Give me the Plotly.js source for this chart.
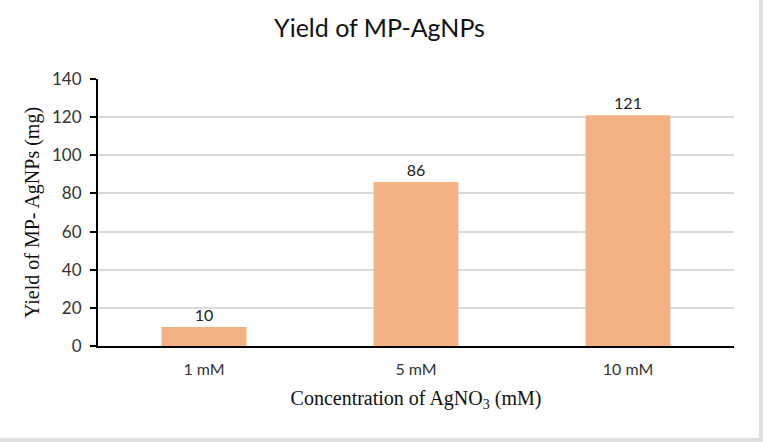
<!DOCTYPE html>
<html>
<head>
<script src="https://cdn.plot.ly/plotly-3.0.1.min.js"></script>
<style>
body { margin: 0; background: #fff; }
#chart { width: 759px; height: 438px; border-right: 4px solid #e0e0e0; border-bottom: 4px solid #e0e0e0; }
</style>
</head>
<body>
<div id="chart"></div>
<script>
var concentrations = ["1 mM", "5 mM", "10 mM"];
var yields = [10, 86, 121];
var yTicks = [0, 20, 40, 60, 80, 100, 120, 140];

var trace = {
    x: concentrations,
    y: yields,
    type: "bar",
    width: 0.4,
    marker: {color: "#F4B183"},
    text: yields.map(String),
    textposition: "outside",
    cliponaxis: false,
    textfont: {family: "Lato, 'Open Sans', sans-serif", size: 16, color: "#222"},
    hoverinfo: "x+y"
};

var layout = {
    width: 759,
    height: 438,
    margin: {l: 98, r: 25, t: 79, b: 92},
    paper_bgcolor: "#fff",
    plot_bgcolor: "#fff",
    showlegend: false,
    title: {
        text: "Yield of MP-AgNPs",
        font: {family: "Lato, 'Open Sans', sans-serif", size: 25, color: "#111"},
        x: 0.5, xanchor: "center",
        y: 0.935, yanchor: "middle"
    },
    xaxis: {
        title: {text: "Concentration of AgNO<sub>3</sub> (mM)", font: {family: "'Liberation Serif', serif", size: 20, color: "#111"}, standoff: 14},
        tickfont: {family: "Lato, 'Open Sans', sans-serif", size: 16, color: "#333"},
        ticklabelstandoff: 8,
        showline: true, linecolor: "#000", linewidth: 2,
        ticks: "", showgrid: false
    },
    yaxis: {
        title: {text: "Yield of MP- AgNPs (mg)", font: {family: "'Liberation Serif', serif", size: 20, color: "#111"}, standoff: 7},
        range: [0, 140],
        tickvals: yTicks,
        tickfont: {family: "Lato, 'Open Sans', sans-serif", size: 17, color: "#333"},
        ticklabelstandoff: 5,
        showline: true, linecolor: "#000", linewidth: 2,
        ticks: "outside", ticklen: 6, tickwidth: 2, tickcolor: "#000",
        showgrid: true, gridcolor: "#d9d9d9", gridwidth: 2,
        zeroline: false
    }
};

Plotly.newPlot("chart", [trace], layout, {displayModeBar: false});
</script>
</body>
</html>
